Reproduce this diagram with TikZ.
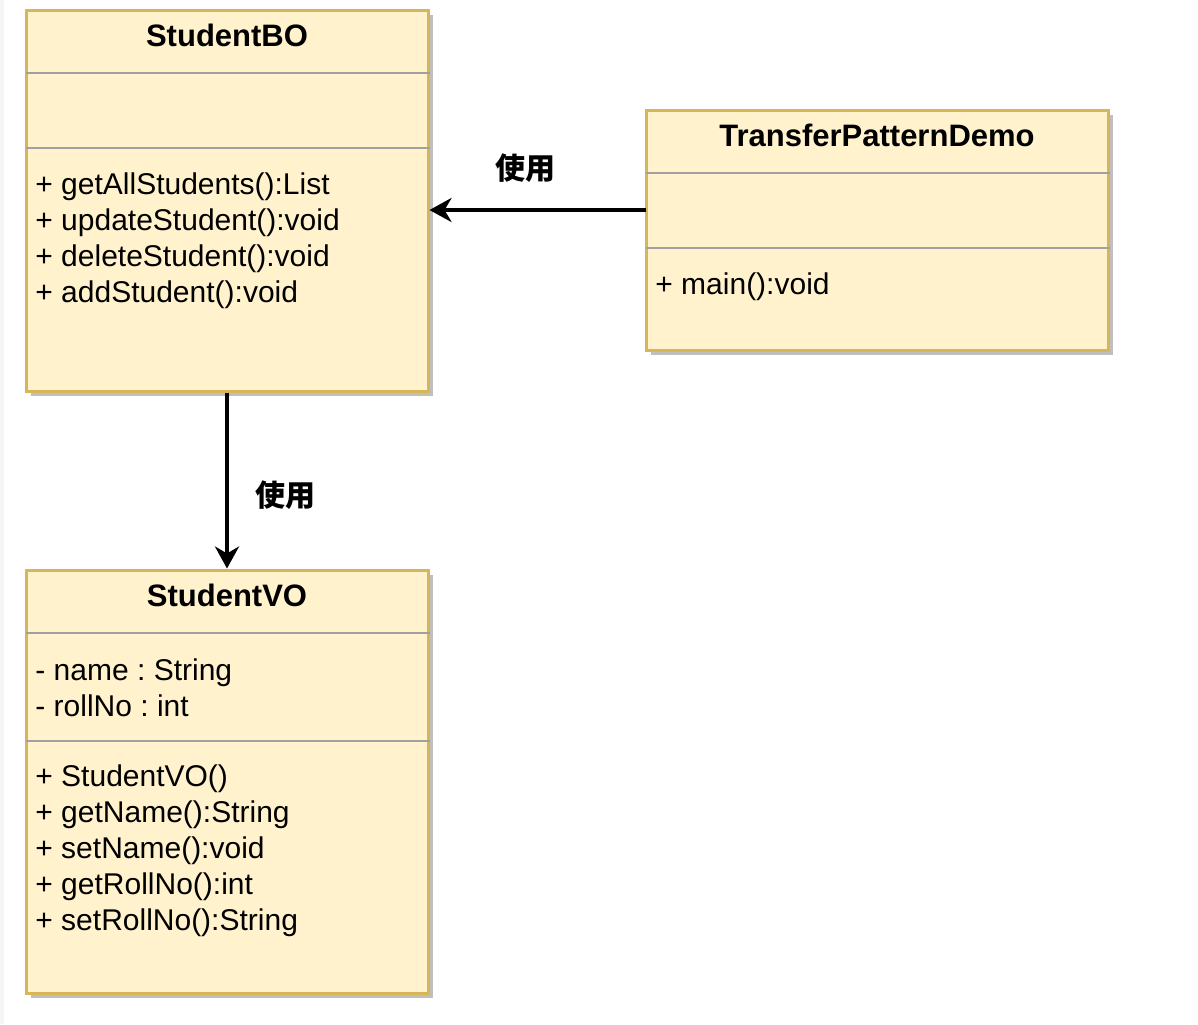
\documentclass[tikz,border=0pt]{standalone}
\usepackage{fontspec}
\setmainfont{Liberation Sans}
\newfontfamily\cjk{Noto Sans CJK SC}
\usetikzlibrary{arrows.meta,shadows}
\frenchspacing
\definecolor{umlfill}{HTML}{FFF2CC}
\definecolor{umlline}{HTML}{D6B656}
\definecolor{sepline}{HTML}{A0A0A0}
\tikzset{
  classbox/.style={draw=umlline,fill=umlfill,line width=1.5pt,inner sep=0pt,
    drop shadow={fill=black!25,opacity=1,shadow xshift=2.5pt,shadow yshift=-2.5pt}},
  classname/.style={font=\fontsize{15.5}{18}\selectfont\bfseries,anchor=base,inner sep=0pt},
  member/.style={font=\fontsize{15}{18}\selectfont,anchor=base west,inner sep=0pt},
  divider/.style={draw=sepline,line width=1pt},
  usearrow/.style={line width=2pt,-{Stealth[length=11pt,width=12pt,inset=3.5pt]}},
  uselabel/.style={font=\fontsize{15}{18}\selectfont\cjk\bfseries,inner sep=0pt}
}
\begin{document}
\begin{tikzpicture}[x=0.5pt,y=-0.5pt]
\useasboundingbox (0,0) rectangle (1198,1024);
\fill[black!4] (0,0) rectangle (4,1024);

% class boxes
\node[classbox,minimum width=201pt,minimum height=190.5pt] (bo) at (227,200.5) {};
\node[classbox,minimum width=231pt,minimum height=120pt] (demo) at (877,230) {};
\node[classbox,minimum width=201pt,minimum height=211.5pt] (vo) at (227,781.5) {};

\foreach \y in {73,148,633,741}
{
    \draw[divider] (26,\y)--(430,\y);
}
\foreach \y in {173,248}
{
    \draw[divider] (646,\y)--(1110,\y);
}

\node[classname] (bot) at (227,46) {StudentBO};
\node[classname] (demot) at (877,146) {TransferPatternDemo};
\node[classname] (vot) at (227,606) {StudentVO};

\foreach \y/\txt [count=\i] in {194/+ getAllStudents():List, 230/+ updateStudent():void, 266/+ deleteStudent():void, 302/+ addStudent():void}
{
    \node[member] (bom\i) at (35,\y) {\txt};
}
\node[member] (demom1) at (655,294) {+ main():void};
\foreach \y/\txt [count=\i] in {680/- name : String, 716/- rollNo : int}
{
    \node[member] (voa\i) at (35,\y) {\txt};
}
\foreach \y/\txt [count=\i] in {786/+ StudentVO(), 822/+ getName():String, 858/+ setName():void, 894/+ getRollNo():int, 930/+ setRollNo():String}
{
    \node[member] (vom\i) at (35,\y) {\txt};
}

% uses
\coordinate (u1) at (646,210);
\draw[usearrow] (u1)--(u1 -| bo.east);
\node[uselabel] (l1) at (525,168) {使用};
\draw[usearrow] (bo.south)--(vo.north);
\node[uselabel] (l2) at (285,495) {使用};

\end{tikzpicture}
\end{document}
